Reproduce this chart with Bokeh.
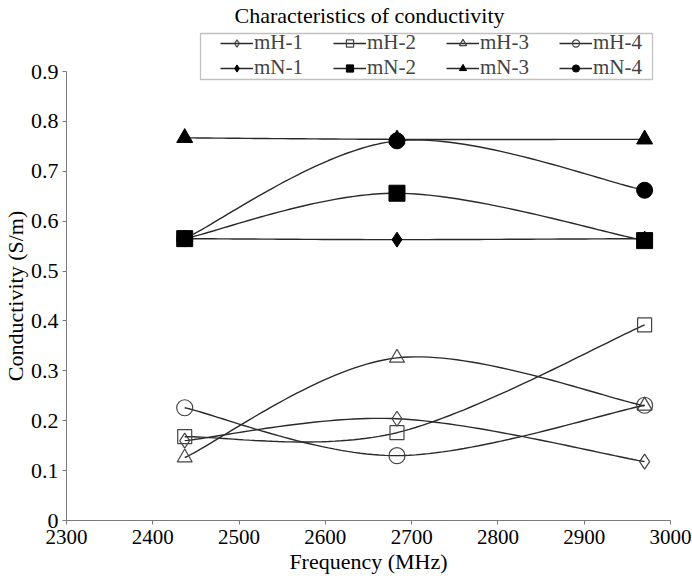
import numpy as np
from bokeh.plotting import figure
from bokeh.models import Range1d, Legend, LegendItem, FixedTicker, BoxAnnotation, Label
from bokeh.embed import file_html
from bokeh.resources import INLINE

# ---- data ----
freq = [2437, 2683, 2970]
mH1 = [0.160, 0.204, 0.118]
mH2 = [0.168, 0.176, 0.392]
mH3 = [0.126, 0.326, 0.230]
mH4 = [0.226, 0.130, 0.231]
mN1 = [0.565, 0.563, 0.565]
mN2 = [0.565, 0.656, 0.561]
mN3 = [0.767, 0.764, 0.764]
mN4 = [0.565, 0.761, 0.662]
series_names = ["mH-1", "mH-2", "mH-3", "mH-4", "mN-1", "mN-2", "mN-3", "mN-4"]
series_values = [mH1, mH2, mH3, mH4, mN1, mN2, mN3, mN4]
x_ticks = [2300, 2400, 2500, 2600, 2700, 2800, 2900, 3000]
y_ticks = [0, 0.1, 0.2, 0.3, 0.4, 0.5, 0.6, 0.7, 0.8, 0.9]
title_text = "Characteristics of conductivity"

markers = ["diamond", "square", "triangle", "circle"] * 2
filled = [False] * 4 + [True] * 4
msize = [15, 14, 15, 16, 15, 16, 16, 16]

FONT = "Liberation Serif"
W, H = 692, 579


def smooth(xs, ys, n=40):
    P = np.column_stack([xs, ys]).astype(float)
    m = len(P)
    out = []
    for i in range(m - 1):
        p0 = P[i - 1] if i > 0 else P[i]
        p1 = P[i]
        p2 = P[i + 1]
        p3 = P[i + 2] if i + 2 < m else P[i + 1]
        c1 = p1 + (p2 - p0) / 6.0
        c2 = p2 - (p3 - p1) / 6.0
        t = np.linspace(0, 1, n)[:, None]
        seg = ((1 - t) ** 3) * p1 + 3 * ((1 - t) ** 2) * t * c1 + 3 * (1 - t) * t ** 2 * c2 + t ** 3 * p2
        out.append(seg if i == 0 else seg[1:])
    arr = np.vstack(out)
    return arr[:, 0], arr[:, 1]


# The frame covers the whole canvas; axes are pinned inside it.
# x: 2300 -> 66px, 3000 -> 670px ; y: 0.9 -> 71px, 0 -> 520px (from top)
xs_per_px = 700.0 / 604.0
ys_per_px = 0.9 / 449.0
x_range = Range1d(2300 - 66 * xs_per_px, 3000 + (W - 670) * xs_per_px)
y_range = Range1d(-(H - 520) * ys_per_px, 0.9 + 71 * ys_per_px)

p = figure(width=W, height=H, output_backend="svg", toolbar_location=None, title=None,
           x_range=x_range, y_range=y_range,
           min_border_left=0, min_border_right=0, min_border_top=0, min_border_bottom=0)
p.outline_line_color = None
p.xgrid.visible = False
p.ygrid.visible = False
p.background_fill_color = "white"
p.border_fill_color = "white"

for ax in (p.xaxis[0], p.yaxis[0]):
    ax.axis_line_color = "#7a7a7a"
    ax.major_tick_line_color = "#7a7a7a"
    ax.major_tick_out = 4
    ax.major_tick_in = 0
    ax.minor_tick_line_color = None
    ax.major_label_text_font = FONT
    ax.major_label_text_font_size = "22px"
    ax.major_label_text_color = "black"
    ax.axis_label_text_font = FONT
    ax.axis_label_text_font_size = "22px"
    ax.axis_label_text_font_style = "normal"
    ax.axis_label_text_color = "black"

p.xaxis.major_label_text_font_size = "21px"
p.xaxis.fixed_location = 0
p.yaxis.fixed_location = 2300
p.xaxis.bounds = (2300, 3000)
p.yaxis.bounds = (0, 0.9)
p.xaxis.ticker = FixedTicker(ticks=x_ticks)
p.yaxis.ticker = FixedTicker(ticks=y_ticks)
p.yaxis.major_label_overrides = {0: "0"}
p.xaxis.axis_label = "Frequency (MHz)"
p.yaxis.axis_label = "Conductivity (S/m)"
p.xaxis.major_label_standoff = 5
p.xaxis.axis_label_standoff = 2
p.yaxis.major_label_standoff = 4
p.yaxis.axis_label_standoff = 0

items = []
for name, ys, mk, fl, sz in zip(series_names, series_values, markers, filled, msize):
    sx, sy = smooth(freq, ys)
    ln = p.line(sx, sy, line_color="#2a2a2a", line_width=1.4)
    if fl:
        sc = p.scatter(freq, ys, marker=mk, size=sz, fill_color="black", line_color="black")
    else:
        sc = p.scatter(freq, ys, marker=mk, size=sz, fill_color=None, line_color="#444444", line_width=1.2)
    items.append(LegendItem(label=name, renderers=[ln, sc]))

title = Label(x=369, y=H - 15, x_units="screen", y_units="screen", text=title_text,
              text_font=FONT, text_font_size="22px", text_align="center",
              text_baseline="middle", text_color="black")
p.add_layout(title)

frame_box = BoxAnnotation(left=200, right=652, top=H - 33, bottom=H - 79,
                          left_units="screen", right_units="screen",
                          top_units="screen", bottom_units="screen",
                          fill_color=None, line_color="#333333", line_width=1.3)
p.add_layout(frame_box)

legend = Legend(items=items, location=(220, H - 80), orientation="horizontal", nrows=2,
                label_text_font=FONT, label_text_font_size="21px",
                label_height=18, glyph_height=18, glyph_width=33, label_standoff=1,
                label_width=79, spacing=0, padding=0, margin=0,
                border_line_color=None, background_fill_alpha=0.0)
p.add_layout(legend, "center")

open("out.html", "w").write(file_html(p, INLINE))
